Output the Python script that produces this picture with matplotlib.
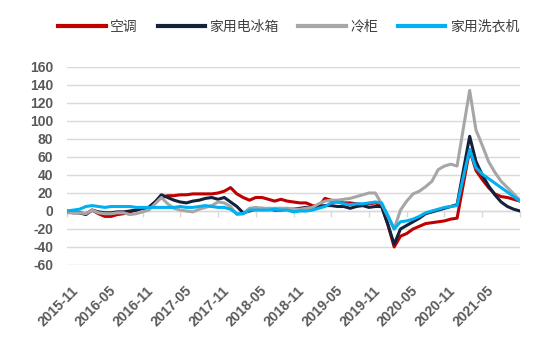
import matplotlib
matplotlib.use("Agg")
import matplotlib.pyplot as plt
from matplotlib.transforms import ScaledTranslation

# monthly yoy (%), 2015-11 .. 2021-11
start_year, start_month, n_months = 2015, 11, 73

aircon = [0, -1, -2, -3, 1, -3, -6, -6, -4, -3, -1, 1, 3, 4, 10, 15, 17, 17, 18, 18,
          19, 19, 19, 19, 20, 22, 26, 19, 15, 12, 15, 15, 13, 11, 13, 11, 10, 9, 9, 6,
          5, 14, 12, 10, 9, 9, 8, 7, 8, 9, 6, -15, -40, -28, -25, -20, -17, -14, -13, -12,
          -11, -9, -8, 30, 68, 45, 35, 26, 19, 16, 15, 13, 11]
fridge = [-1, -2, -2, -4, 1, -1, -2, -2, -1, -1, 0, 1, 3, 4, 10, 18, 15, 12, 10, 9,
          11, 12, 14, 15, 13, 15, 10, 5, -2, 0, 2, 3, 2, 1, 1, 2, 2, 3, 4, 4,
          5, 6, 6, 5, 5, 3, 5, 6, 4, 5, 5, -15, -37, -20, -16, -12, -8, -3, -1, 1,
          3, 5, 7, 45, 83, 55, 40, 28, 18, 10, 5, 2, 0]
freezer = [-2, -2, -2, -3, 1, -2, -3, -3, -2, -2, -4, -3, -1, 1, 8, 15, 8, 3, 1, 0,
           -1, 2, 4, 6, 10, 9, 5, -4, -3, 3, 4, 3, 3, 3, 3, 3, 2, 2, 3, 4,
           8, 11, 12, 12, 13, 14, 16, 18, 20, 20, 8, -6, -20, 1, 11, 19, 22, 27, 33, 46,
           50, 52, 50, 92, 134, 90, 73, 55, 43, 33, 26, 19, 12]
washer = [0, 1, 2, 5, 6, 5, 4, 5, 5, 5, 5, 4, 4, 4, 4, 4, 4, 4, 5, 4,
          4, 5, 6, 5, 4, 4, 2, -3, -3, 1, 1, 1, 1, 2, 1, 1, -1, 0, 0, 1,
          3, 5, 9, 10, 8, 7, 8, 8, 9, 10, 9, -5, -20, -12, -11, -9, -6, -2, 0, 2,
          4, 5, 6, 38, 68, 48, 41, 36, 31, 26, 21, 16, 11]

series_names = ["空调", "家用电冰箱", "冷柜", "家用洗衣机"]
series_colors = ["#C00000", "#14213D", "#A6A6A6", "#00B0F0"]
y_ticks = list(range(-60, 161, 20))


def month_label(i):
    m = start_month - 1 + i
    return "%d-%02d" % (start_year + m // 12, m % 12 + 1)


x = list(range(n_months))
tick_pos = list(range(0, n_months - 1, 6))
tick_lab = [month_label(i) for i in tick_pos]

plt.rcParams["font.family"] = ["Noto Sans CJK SC", "DejaVu Sans"]

fig = plt.figure(figsize=(5.5, 3.41), dpi=100)
ax = fig.add_axes([67 / 550, 1 - 265 / 341, (520 - 67) / 550, (265 - 67) / 341])

for yv in y_ticks:
    ax.axhline(yv, color="#D9D9D9", lw=1.0, zorder=0)

for vals, name, c in zip([aircon, fridge, freezer, washer], series_names, series_colors):
    ax.plot(x, vals, color=c, lw=2.2, label=name, solid_joinstyle="round")

ax.set_xlim(0, n_months - 1)
ax.set_ylim(-60, 160)
for s in ax.spines.values():
    s.set_visible(False)

ax.set_yticks(y_ticks)
ax.set_yticklabels([str(v) for v in y_ticks], fontfamily="Liberation Sans",
                   fontweight="bold", fontsize=10, color="#595959")
ax.tick_params(axis="y", length=0, pad=10)

ax.set_xticks(tick_pos)
ax.set_xticklabels(tick_lab, rotation=45, ha="right", va="center", rotation_mode="anchor",
                   fontfamily="Liberation Sans", fontweight="bold", fontsize=10, color="#595959")
ax.tick_params(axis="x", length=0, pad=17)
shift = ScaledTranslation(9 / 100, 0, fig.dpi_scale_trans)
for lab in ax.get_xticklabels():
    lab.set_transform(lab.get_transform() + shift)

# axis line with tick marks at zero
zero_ax = ax.secondary_xaxis(60 / 220)
zero_ax.set_xticks(list(range(0, n_months, 6)))
zero_ax.set_xticklabels([])
zero_ax.tick_params(length=4, width=1, color="#D9D9D9", direction="out")
zero_ax.spines["bottom"].set_color("#D9D9D9")
zero_ax.spines["bottom"].set_linewidth(1)

fig.legend(loc="center", bbox_to_anchor=(0.525, 1 - 27 / 341), ncol=4, frameon=False,
           fontsize=10, handlelength=3.4, handletextpad=0.35, columnspacing=1.4,
           labelcolor="#404040")
for h in fig.legends[0].get_lines():
    h.set_linewidth(3)

fig.savefig("out.png", dpi=100)
